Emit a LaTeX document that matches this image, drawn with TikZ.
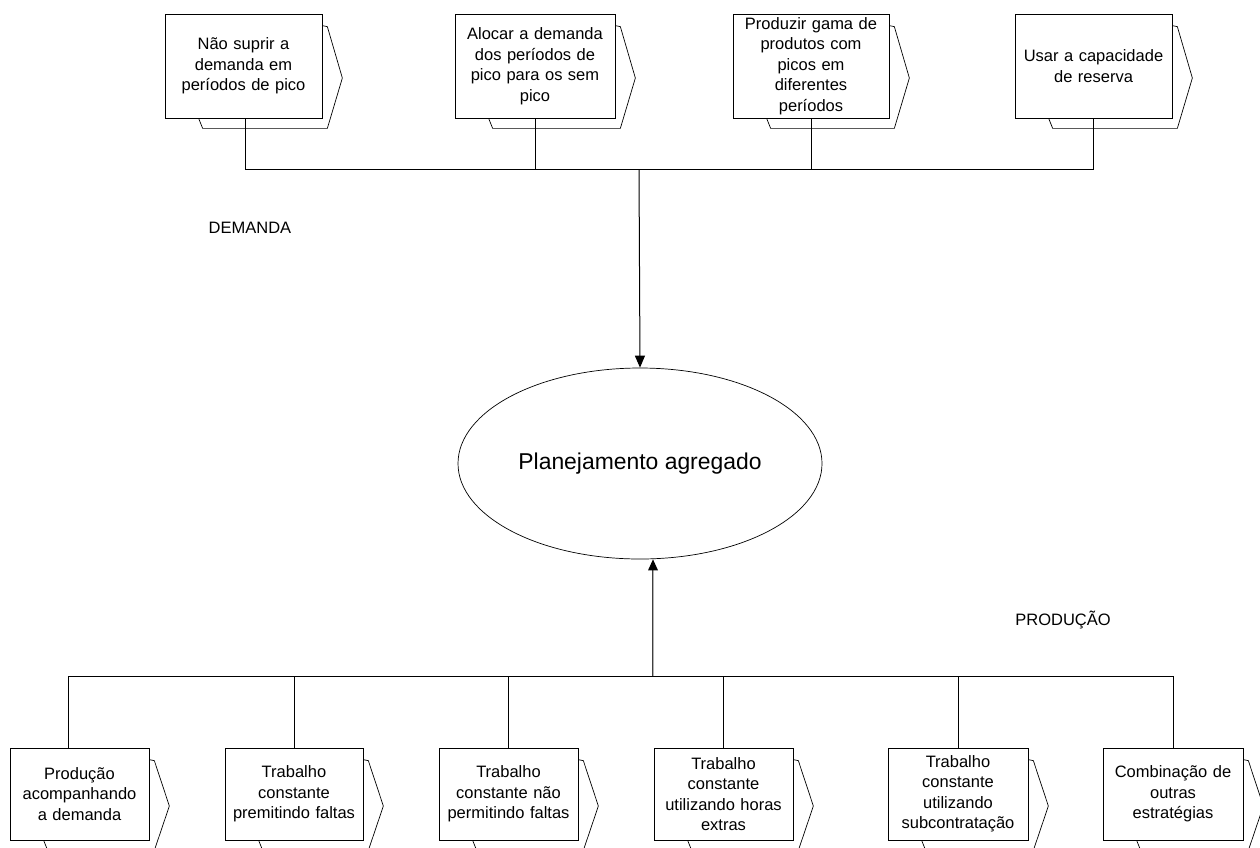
\documentclass[tikz,border=0pt]{standalone}
\usepackage{fontspec}
\setmainfont{Liberation Sans}
\usetikzlibrary{shapes.geometric,arrows.meta,calc}
\tikzset{
  optbox/.style={draw=black, line width=0.7pt, fill=white, inner sep=0pt,
    align=center, font=\fontsize{16.5}{20.5}\selectfont},
  backline/.style={draw=black, line width=0.7pt},
  conn/.style={draw=black, line width=0.8pt},
  lbl/.style={font=\fontsize{16.5}{20.5}\selectfont, inner sep=0pt},
  tiparrow/.style={-{Triangle[length=12pt,width=10pt]}}
}
\newcommand{\backshape}[1]{%
  \draw[backline] ($(#1.north east)+(0,12)$) -- ++(5,1)
    -- ($(#1.east)+(20,12)$) -- ($(#1.south east)+(5,10)$)
    -- ($(#1.south west)+(38,10)$) -- ($(#1.south west)+(34,0)$);}
\begin{document}
\begin{tikzpicture}[x=1pt,y=-1pt]
\useasboundingbox (0,0) rectangle (1260,847);
\clip (0,0) rectangle (1260,847);
\fill[white] (0,0) rectangle (1260,847);

% top boxes
\node[optbox, minimum width=157pt, minimum height=104pt, text width=149pt] (t1) at (243.5,66) {Não suprir a\\demanda em\\períodos de pico};
\node[optbox, minimum width=160pt, minimum height=104pt, text width=152pt] (t2) at (535,66) {Alocar a demanda\\dos períodos de\\pico para os sem\\pico};
\node[optbox, minimum width=156pt, minimum height=104pt, text width=150pt] (t3) at (811,66) {Produzir gama de\\produtos com\\picos em\\diferentes\\períodos};
\node[optbox, minimum width=157pt, minimum height=104pt, text width=149pt] (t4) at (1093.5,66) {Usar a capacidade\\de reserva};
\foreach \n in {t1,t2,t3,t4} {\backshape{\n}}

% bottom boxes
\node[optbox, minimum width=139pt, minimum height=92pt, text width=133pt] (p1) at (79.5,794) {Produção\\acompanhando\\a demanda};
\node[optbox, minimum width=138pt, minimum height=92pt, text width=132pt] (p2) at (294,794) {Trabalho\\constante\\premitindo faltas};
\node[optbox, minimum width=139pt, minimum height=92pt, text width=133pt] (p3) at (508.5,794) {Trabalho\\constante não\\permitindo faltas};
\node[optbox, minimum width=139pt, minimum height=92pt, text width=133pt] (p4) at (723.5,794) {Trabalho\\constante\\utilizando horas\\extras};
\node[optbox, minimum width=140pt, minimum height=92pt, text width=134pt] (p5) at (958,794) {Trabalho\\constante\\utilizando\\subcontratação};
\node[optbox, minimum width=140pt, minimum height=92pt, text width=134pt] (p6) at (1173,794) {Combinação de\\outras\\estratégias};
\foreach \n in {p1,p2,p3,p4,p5,p6} {\backshape{\n}}

% ellipse
\node[draw=black, line width=0.7pt, ellipse, minimum width=364pt, minimum height=191pt, inner sep=0pt,
  font=\fontsize{22.9}{27}\selectfont] (plan) at (640,463.5) {Planejamento agregado};

% labels
\node[lbl] (dem) at (250,228) {DEMANDA};
\node[lbl] (prod) at (1063,620) {PRODUÇÃO};

% top connectors
\coordinate (tb) at (639,169);
\draw[conn] (t1.south -| 245,0) -- (245,169) -| (t4.south);
\draw[conn] (t2.south) -- (t2.south |- tb);
\draw[conn] (t3.south) -- (t3.south |- tb);
\draw[conn, line width=1pt, tiparrow] (tb) -- (plan.north);

% bottom connectors
\coordinate (bb) at (653,676);
\coordinate (p1c) at ($(p1.north)+(-11.5,0)$);
\draw[conn] (p1c) -- (p1c |- bb) -| (p6.north);
\draw[conn] (p2.north) -- (p2.north |- bb);
\draw[conn] (p3.north) -- (p3.north |- bb);
\draw[conn] (p4.north) -- (p4.north |- bb);
\draw[conn] (p5.north) -- (p5.north |- bb);
\coordinate (btip) at (bb |- plan.south);
\coordinate (bbase) at ($(btip)+(0,11)$);
\draw[black!75, line width=2.6pt] (bb) -- (bbase);
\draw[white!70!black, line width=0.8pt] (bb) -- (bbase);
\fill[black] (btip) -- ($(bbase)+(-5,0)$) -- ($(bbase)+(5,0)$) -- cycle;
\end{tikzpicture}
\end{document}
